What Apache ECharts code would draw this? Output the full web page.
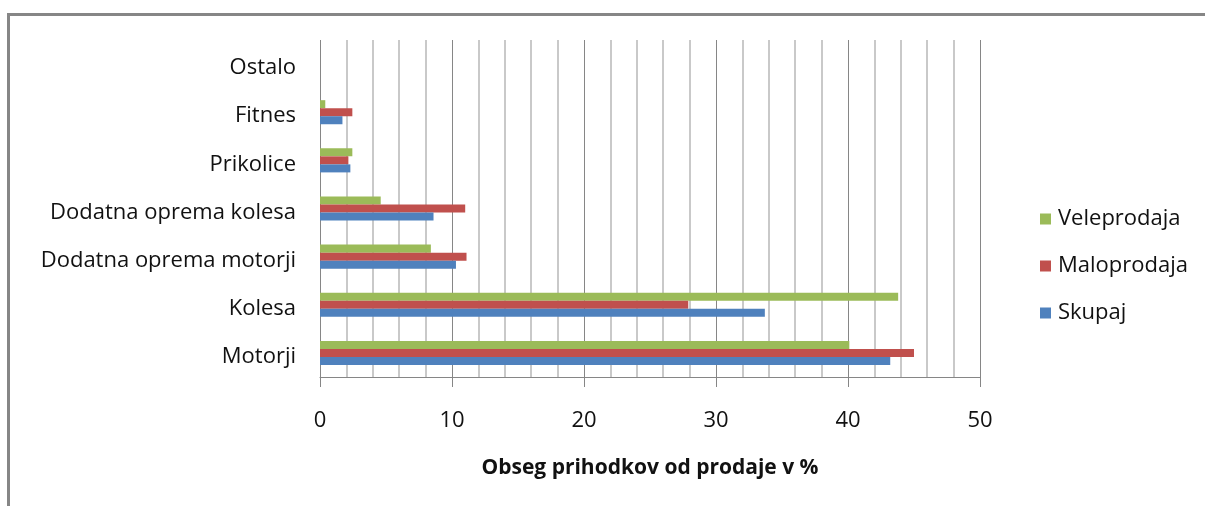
<!DOCTYPE html>
<html>
<head>
<meta charset="utf-8">
<style>
  html, body { margin: 0; padding: 0; background: #fff; }
  #chart { width: 1205px; height: 506px; }
</style>
<script src="https://cdn.jsdelivr.net/npm/echarts@6/dist/echarts.min.js"></script>
</head>
<body>
<div id="chart"></div>
<script>
// Product groups, listed from the bottom of the chart upwards
const categories = ['Motorji', 'Kolesa', 'Dodatna oprema motorji', 'Dodatna oprema kolesa', 'Prikolice', 'Fitnes', 'Ostalo'];

// Share of sales revenue (%) per channel
const skupaj      = [43.2, 33.7, 10.3, 8.6, 2.3, 1.7, 0];
const maloprodaja = [45.0, 27.9, 11.1, 11.0, 2.15, 2.45, 0];
const veleprodaja = [40.1, 43.8, 8.4, 4.6, 2.45, 0.4, 0];

const seriesNames = ['Skupaj', 'Maloprodaja', 'Veleprodaja'];
const axisTitle = 'Obseg prihodkov od prodaje v %';

const FONT = '"Open Sans", sans-serif';
const TEXT = '#111';

const chart = echarts.init(document.getElementById('chart'), null, { renderer: 'canvas' });

const mkSeries = (name, data, color) => ({
  name, type: 'bar', data,
  barGap: '0%', barCategoryGap: '50%',
  itemStyle: { color },
  emphasis: { disabled: true },
  animation: false
});

chart.setOption({
  animation: false,
  backgroundColor: '#fff',
  graphic: [{
    type: 'rect',
    shape: { x: 8.5, y: 14.5, width: 1400, height: 700 },
    style: { fill: 'none', stroke: '#868686', lineWidth: 3 },
    silent: true, z: -1
  }],
  grid: { left: 320, right: 225, top: 40, bottom: 129, containLabel: false },
  legend: {
    orient: 'vertical',
    left: 1035, top: 203,
    itemWidth: 11, itemHeight: 11, itemGap: 25,
    icon: 'rect',
    data: ['Veleprodaja', 'Maloprodaja', 'Skupaj'],
    textStyle: { fontFamily: FONT, fontSize: 22, color: TEXT, padding: [0, 0, 0, 2] }
  },
  xAxis: {
    type: 'value', min: 0, max: 50, interval: 10,
    name: axisTitle, nameLocation: 'middle', nameGap: 81,
    nameTextStyle: { fontFamily: FONT, fontSize: 21, fontWeight: 'bold', color: TEXT },
    axisLine: { show: true, lineStyle: { color: '#868686', width: 1 } },
    axisTick: { show: true, length: 10, lineStyle: { color: '#868686' } },
    axisLabel: { margin: 33, fontFamily: FONT, fontSize: 22, color: TEXT },
    minorTick: { show: false, splitNumber: 5 },
    splitLine: { show: true, lineStyle: { color: '#868686', width: 1 } },
    minorSplitLine: { show: true, lineStyle: { color: '#b8b8b8', width: 1.5 } }
  },
  yAxis: {
    type: 'category', data: categories,
    axisLine: { show: false }, axisTick: { show: false },
    axisLabel: {
      margin: 24,
      formatter: (v) => '{c|' + v + '}',
      rich: { c: { fontFamily: FONT, fontSize: 22, color: TEXT, padding: [8, 0, 0, 0] } }
    },
    splitLine: { show: false }
  },
  // The first series sits on top within each group
  series: [
    mkSeries(seriesNames[2], veleprodaja, '#9BBB59'),
    mkSeries(seriesNames[1], maloprodaja, '#C0504D'),
    mkSeries(seriesNames[0], skupaj, '#4F81BD')
  ]
});
</script>
</body>
</html>
